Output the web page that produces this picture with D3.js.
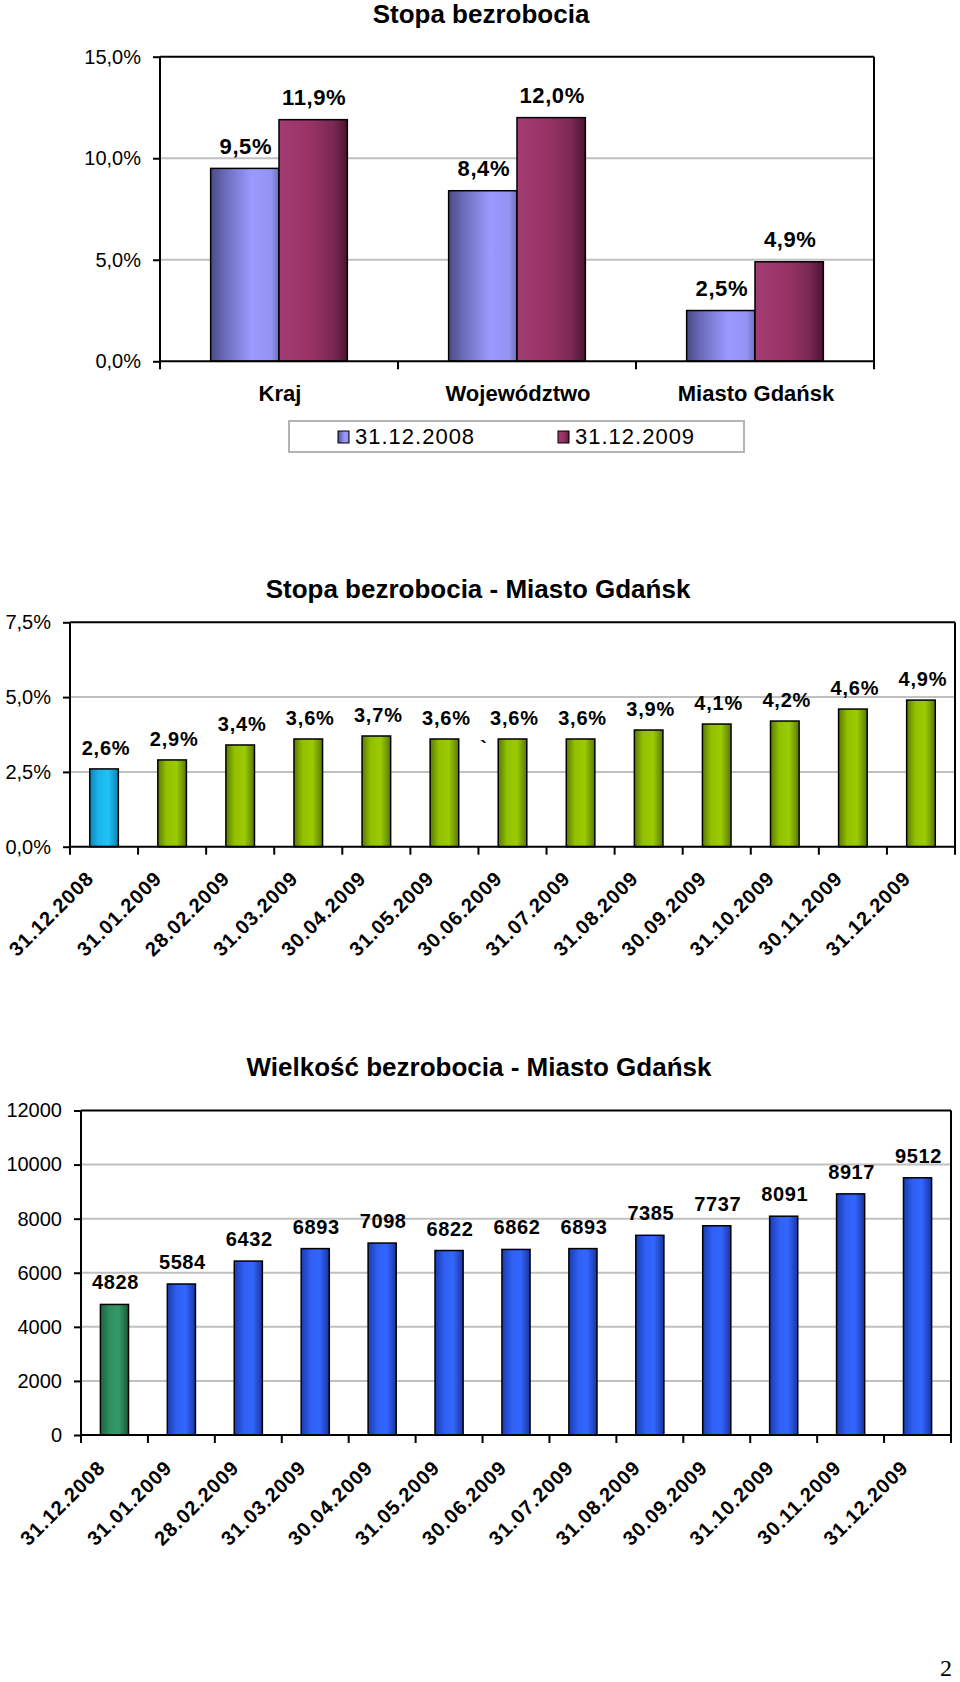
<!DOCTYPE html>
<html><head><meta charset="utf-8">
<script src="https://cdn.jsdelivr.net/npm/d3@7"></script>
<style>body{margin:0;background:#fff} svg{display:block}</style>
</head><body>
<script>
// ---------- DATA ----------
const rateCategories = ["Kraj", "Województwo", "Miasto Gdańsk"];
const rateSeries = ["31.12.2008", "31.12.2009"];
const rate2008 = [9.5, 8.4, 2.5];
const rate2009 = [11.9, 12.0, 4.9];
const rateTicks = [0, 5, 10, 15];

const months = ["31.12.2008", "31.01.2009", "28.02.2009", "31.03.2009", "30.04.2009", "31.05.2009",
  "30.06.2009", "31.07.2009", "31.08.2009", "30.09.2009", "31.10.2009", "30.11.2009", "31.12.2009"];
const cityRate = [2.6, 2.9, 3.4, 3.6, 3.7, 3.6, 3.6, 3.6, 3.9, 4.1, 4.2, 4.6, 4.9];
const cityRateTicks = [0, 2.5, 5, 7.5];
const cityCount = [4828, 5584, 6432, 6893, 7098, 6822, 6862, 6893, 7385, 7737, 8091, 8917, 9512];
const cityCountTicks = [0, 2000, 4000, 6000, 8000, 10000, 12000];

const titles = ["Stopa bezrobocia", "Stopa bezrobocia - Miasto Gdańsk", "Wielkość bezrobocia - Miasto Gdańsk"];
const pageNumber = "2";

// ---------- SETUP ----------
const pl = d3.formatLocale({decimal: ",", thousands: "", grouping: [3], currency: ["", ""]});
const pct = v => pl.format(".1f")(v) + "%";
const intf = v => pl.format("d")(v);

const FONT = "'Liberation Sans', Arial, Helvetica, sans-serif";
const W = 960, H = 1682;
const svg = d3.select("body").append("svg").attr("width", W).attr("height", H)
  .style("font-family", FONT);
svg.append("rect").attr("width", W).attr("height", H).attr("fill", "#fff");
const defs = svg.append("defs");
function grad(id, stops) {
  const g = defs.append("linearGradient").attr("id", id)
    .attr("x1", "0").attr("x2", "1").attr("y1", "0").attr("y2", "0");
  stops.forEach(([o, c]) => g.append("stop").attr("offset", o).attr("stop-color", c));
}
grad("gBlue1", [[0, "#4a4a86"], [0.2, "#6a6ab8"], [0.6, "#9a9aff"], [0.88, "#9494f4"], [1, "#6e6ec0"]]);
grad("gRed1", [[0, "#a23c72"], [0.45, "#993366"], [0.8, "#7a2852"], [1, "#4a1430"]]);
grad("gCyan", [[0, "#0a86b8"], [0.3, "#1ab4ea"], [0.65, "#20c2f4"], [1, "#0a80b0"]]);
grad("gLime", [[0, "#5a7a00"], [0.3, "#92c000"], [0.65, "#9acc00"], [1, "#5a7800"]]);
grad("gGreen", [[0, "#1c6440"], [0.35, "#2f9162"], [0.65, "#339966"], [1, "#1a5a38"]]);
grad("gBlue3", [[0, "#1a3cb0"], [0.35, "#3060f4"], [0.65, "#3366ff"], [1, "#1a34a0"]]);

function title(text, cx, y) {
  svg.append("text").attr("x", cx).attr("y", y).attr("text-anchor", "middle")
    .attr("font-size", 26).attr("font-weight", "bold").attr("fill", "#000").text(text);
}

function frame(x0, x1, y, ticks, fmt, xScale, cats) {
  const g = svg.append("g");
  const [d0, d1] = y.domain();
  g.selectAll(".grid").data(ticks.filter(t => t > d0 && t < d1)).join("line")
    .attr("x1", x0).attr("x2", x1).attr("y1", d => y(d)).attr("y2", d => y(d))
    .attr("stroke", "#c0c0c0").attr("stroke-width", 2);
  const ax = g.append("g").attr("transform", `translate(${x0},0)`)
    .call(d3.axisLeft(y).tickValues(ticks).tickFormat(fmt).tickSize(7).tickPadding(12));
  ax.select(".domain").remove();
  ax.selectAll("line").attr("stroke", "#000").attr("stroke-width", 2);
  ax.selectAll("text").attr("font-size", 20).attr("fill", "#000").attr("font-family", FONT);
  const bounds = cats.map(c => xScale(c)).concat([x1]);
  g.selectAll(".xt").data(bounds).join("line")
    .attr("x1", d => d).attr("x2", d => d).attr("y1", y(d0)).attr("y2", y(d0) + 8)
    .attr("stroke", "#000").attr("stroke-width", 2);
  return g;
}
function borders(x0, x1, y) {
  const [d0, d1] = y.domain();
  const g = svg.append("g").attr("stroke", "#000").attr("stroke-width", 2).attr("fill", "none");
  g.append("line").attr("x1", x0).attr("x2", x1).attr("y1", y(d1)).attr("y2", y(d1));
  g.append("line").attr("x1", x1).attr("x2", x1).attr("y1", y(d1)).attr("y2", y(d0));
  g.append("line").attr("x1", x0).attr("x2", x0).attr("y1", y(d1)).attr("y2", y(d0));
  g.append("line").attr("x1", x0 - 1).attr("x2", x1 + 1).attr("y1", y(d0)).attr("y2", y(d0));
}

// ---------- CHART 1 ----------
{
  const x0 = 160, x1 = 874;
  const y = d3.scaleLinear().domain([0, 15]).range([361.3, 56.7]);
  const x = d3.scaleBand().domain(rateCategories).range([x0, x1]).padding(0);
  const xs = d3.scaleBand().domain(rateSeries).range([0, x.bandwidth()]).paddingInner(0).paddingOuter(0.741);
  title(titles[0], 481, 23);
  frame(x0, x1, y, rateTicks, pct, x, rateCategories);
  const rows = rateCategories.map((c, i) => ({c, vals: [rate2008[i], rate2009[i]]}));
  const fills = ["url(#gBlue1)", "url(#gRed1)"];
  rateSeries.forEach((s, si) => {
    const g = svg.append("g");
    g.selectAll("rect").data(rows).join("rect")
      .attr("x", d => x(d.c) + xs(s)).attr("width", xs.bandwidth())
      .attr("y", d => y(d.vals[si])).attr("height", d => y(0) - y(d.vals[si]))
      .attr("fill", fills[si]).attr("stroke", "#000").attr("stroke-width", 1.5);
    g.selectAll("text").data(rows).join("text")
      .attr("x", d => x(d.c) + xs(s) + xs.bandwidth() / 2 + 1).attr("y", d => y(d.vals[si]) - 14.5)
      .attr("text-anchor", "middle").attr("font-size", 22).attr("font-weight", "bold").attr("fill", "#000")
      .attr("letter-spacing", 0.6)
      .text(d => pct(d.vals[si]));
  });
  borders(x0, x1, y);
  svg.append("g").selectAll("text").data(rateCategories).join("text")
    .attr("x", d => x(d) + x.bandwidth() / 2 + 1).attr("y", 401)
    .attr("text-anchor", "middle").attr("font-size", 22).attr("font-weight", "bold").attr("fill", "#000")
    .text(d => d);
  // legend
  const lg = svg.append("g");
  lg.append("rect").attr("x", 289).attr("y", 421).attr("width", 455).attr("height", 31)
    .attr("fill", "#fff").attr("stroke", "#b4b4b4").attr("stroke-width", 2);
  const lx = [338, 558];
  rateSeries.forEach((s, i) => {
    lg.append("rect").attr("x", lx[i]).attr("y", 431).attr("width", 11).attr("height", 12)
      .attr("fill", fills[i]).attr("stroke", "#000").attr("stroke-width", 1);
    lg.append("text").attr("x", lx[i] + 17).attr("y", 444).attr("font-size", 22)
      .attr("letter-spacing", 1).attr("fill", "#000").text(s);
  });
}

// ---------- CHART 2 ----------
{
  const x0 = 70, x1 = 955;
  const y = d3.scaleLinear().domain([0, 7.5]).range([846.7, 622.3]);
  const x = d3.scaleBand().domain(months).range([x0, x1]).padding(0);
  const bw = x.bandwidth() * 0.42;
  title(titles[1], 478, 598);
  frame(x0, x1, y, cityRateTicks, pct, x, months);
  const rows = months.map((m, i) => ({m, v: cityRate[i], i}));
  const g = svg.append("g");
  g.selectAll("rect").data(rows).join("rect")
    .attr("x", d => x(d.m) + x.bandwidth() / 2 - bw / 2).attr("width", bw)
    .attr("y", d => y(d.v)).attr("height", d => y(0) - y(d.v))
    .attr("fill", d => d.i === 0 ? "url(#gCyan)" : "url(#gLime)")
    .attr("stroke", "#000").attr("stroke-width", 1.5);
  g.selectAll("text.v").data(rows).join("text").attr("class", "v")
    .attr("x", d => x(d.m) + x.bandwidth() / 2 + 2).attr("y", d => y(d.v) - 14)
    .attr("text-anchor", "middle").attr("font-size", 20).attr("font-weight", "bold").attr("fill", "#000")
    .attr("letter-spacing", 0.8)
    .text(d => pct(d.v));
  // stray mark present in the original
  g.append("text").attr("x", x(months[6]) + x.bandwidth() / 2 - 29).attr("y", y(cityRate[6]) + 16)
    .attr("font-size", 20).attr("font-weight", "bold").attr("text-anchor", "middle").text("`");
  borders(x0, x1, y);
  svg.append("g").selectAll("text").data(months).join("text")
    .attr("transform", d => `translate(${x(d) + x.bandwidth() / 2 - 9},${y(0) + 33}) rotate(-45)`)
    .attr("text-anchor", "end").attr("font-size", 20).attr("font-weight", "bold").attr("fill", "#000")
    .attr("letter-spacing", 1)
    .text(d => d);
}

// ---------- CHART 3 ----------
{
  const x0 = 81, x1 = 951;
  const y = d3.scaleLinear().domain([0, 12000]).range([1435, 1110.5]);
  const x = d3.scaleBand().domain(months).range([x0, x1]).padding(0);
  const bw = x.bandwidth() * 0.42;
  title(titles[2], 479, 1076);
  frame(x0, x1, y, cityCountTicks, intf, x, months);
  const rows = months.map((m, i) => ({m, v: cityCount[i], i}));
  const g = svg.append("g");
  g.selectAll("rect").data(rows).join("rect")
    .attr("x", d => x(d.m) + x.bandwidth() / 2 - bw / 2).attr("width", bw)
    .attr("y", d => y(d.v)).attr("height", d => y(0) - y(d.v))
    .attr("fill", d => d.i === 0 ? "url(#gGreen)" : "url(#gBlue3)")
    .attr("stroke", "#000").attr("stroke-width", 1.5);
  g.selectAll("text.v").data(rows).join("text").attr("class", "v")
    .attr("x", d => x(d.m) + x.bandwidth() / 2 + 1).attr("y", d => y(d.v) - 15)
    .attr("text-anchor", "middle").attr("font-size", 20).attr("font-weight", "bold").attr("fill", "#000")
    .attr("letter-spacing", 0.6)
    .text(d => intf(d.v));
  borders(x0, x1, y);
  svg.append("g").selectAll("text").data(months).join("text")
    .attr("transform", d => `translate(${x(d) + x.bandwidth() / 2 - 8},${y(0) + 34}) rotate(-45)`)
    .attr("text-anchor", "end").attr("font-size", 20).attr("font-weight", "bold").attr("fill", "#000")
    .attr("letter-spacing", 1)
    .text(d => d);
}

// page number
svg.append("text").attr("x", 940).attr("y", 1676).attr("font-family", "'Liberation Serif', 'Times New Roman', serif")
  .attr("font-size", 24).attr("fill", "#000").text(pageNumber);
</script>
</body></html>
